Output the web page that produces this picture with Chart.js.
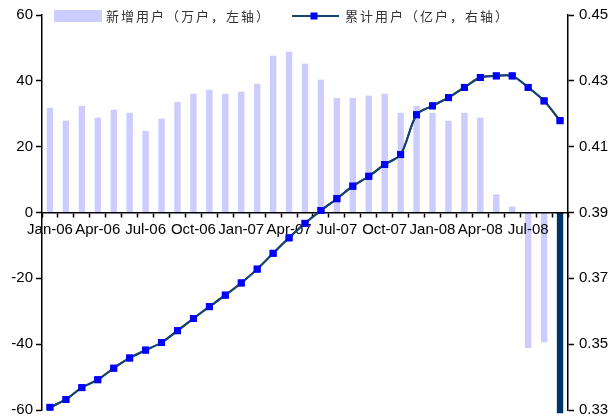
<!DOCTYPE html>
<html>
<head>
<meta charset="utf-8">
<script src="https://cdn.jsdelivr.net/npm/chart.js@4/dist/chart.umd.min.js"></script>
<style>
  html, body { margin: 0; padding: 0; background: #fff; }
  #wrap { width: 609px; height: 417px; position: relative; }
</style>
</head>
<body>
<div id="wrap"><canvas id="c"></canvas></div>
<script>
// 月份（2006-01 至 2008-09）
const months = [
  'Jan-06','Feb-06','Mar-06','Apr-06','May-06','Jun-06','Jul-06','Aug-06','Sep-06','Oct-06','Nov-06','Dec-06',
  'Jan-07','Feb-07','Mar-07','Apr-07','May-07','Jun-07','Jul-07','Aug-07','Sep-07','Oct-07','Nov-07','Dec-07',
  'Jan-08','Feb-08','Mar-08','Apr-08','May-08','Jun-08','Jul-08','Aug-08','Sep-08'
];

// 新增用户（万户，左轴）
const newUsers = [
  31.8, 27.9, 32.4, 28.8, 31.2, 30.3, 24.8, 28.5, 33.6, 36.1, 37.3, 36.1,
  36.7, 39.1, 47.6, 48.8, 45.2, 40.3, 34.8, 34.8, 35.5, 36.1, 30.3, 32.4,
  30.3, 27.9, 30.3, 28.8, 5.5, 1.8, -41.2, -39.4, -61
];

// 累计用户（亿户，右轴）
const totalUsers = [
  0.3308, 0.3332, 0.3368, 0.3392, 0.3427, 0.3458, 0.3482, 0.3505, 0.3541, 0.3578, 0.3614, 0.3649,
  0.3686, 0.3728, 0.3776, 0.3823, 0.3867, 0.3906, 0.3942, 0.3980, 0.4010, 0.4046, 0.4076, 0.4197,
  0.4224, 0.4249, 0.4280, 0.4310, 0.4315, 0.4315, 0.4280, 0.4239, 0.4179
];

const legendNames = ['新增用户（万户，左轴）', '累计用户（亿户，右轴）'];

const BAR_COLOR = '#CCCCFF';
const LAST_BAR_COLOR = '#003366';
const LINE_COLOR = '#17446F';
const MARKER_COLOR = '#0000FF';

// 折线压在横轴标签之上：标签画完后再画一次折线
const lineOnTop = {
  id: 'lineOnTop',
  afterDraw(chart) {
    const meta = chart.getDatasetMeta(0);
    if (meta && meta.controller) meta.controller.draw();
  }
};

// 图例直接画在图区顶部
const topLegend = {
  id: 'topLegend',
  afterDraw(chart) {
    const ctx = chart.ctx;
    ctx.save();
    // 柱形图例
    ctx.fillStyle = BAR_COLOR;
    ctx.fillRect(54, 10, 48, 12);
    // 折线图例
    ctx.strokeStyle = LINE_COLOR;
    ctx.lineWidth = 2;
    ctx.beginPath();
    ctx.moveTo(292, 16);
    ctx.lineTo(339, 16);
    ctx.stroke();
    ctx.fillStyle = MARKER_COLOR;
    ctx.fillRect(310.5, 12.5, 7, 7);
    // 文字
    ctx.fillStyle = '#333';
    ctx.font = '13px "Noto Sans CJK SC"';
    ctx.letterSpacing = '2px';
    ctx.textBaseline = 'middle';
    ctx.fillText(legendNames[0], 106, 16);
    ctx.fillText(legendNames[1], 345, 16);
    ctx.restore();
  }
};

const tickFont = { family: 'Arial, "Liberation Sans", sans-serif', size: 15 };

new Chart(document.getElementById('c'), {
  data: {
    labels: months,
    datasets: [
      {
        type: 'line',
        label: legendNames[1],
        data: totalUsers,
        yAxisID: 'y1',
        borderColor: LINE_COLOR,
        borderWidth: 2,
        tension: 0.3,
        pointStyle: 'rect',
        pointRadius: 4.9,
        pointBackgroundColor: MARKER_COLOR,
        pointBorderColor: MARKER_COLOR,
        pointBorderWidth: 0,
        order: 0,
      },
      {
        type: 'bar',
        label: legendNames[0],
        data: newUsers,
        yAxisID: 'y',
        backgroundColor: newUsers.map((v, i) => i === newUsers.length - 1 ? LAST_BAR_COLOR : BAR_COLOR),
        barPercentage: 0.4,
        categoryPercentage: 1,
        clip: { left: 0, top: 0, right: 0, bottom: 6 },
        order: 1,
      },
    ],
  },
  options: {
    responsive: true,
    maintainAspectRatio: false,
    animation: false,
    layout: { padding: { top: 15, bottom: 7, left: 0, right: 0 } },
    plugins: {
      legend: { display: false },
      tooltip: { enabled: false },
    },
    scales: {
      x: {
        type: 'category',
        position: { y: 0 },
        offset: true,
        grid: { display: true, drawOnChartArea: false, offset: true, tickLength: 4, color: '#000', tickWidth: 1.5, z: 1 },
        border: { display: true, color: '#000', width: 1.5, z: 1 },
        ticks: {
          z: 1,
          autoSkip: false,
          maxRotation: 0,
          padding: 4,
          color: '#000',
          font: tickFont,
          callback: (v, i) => (i % 3 === 0 ? months[i] : ''),
        },
      },
      y: {
        position: 'left',
        min: -60,
        max: 60,
        grid: { drawOnChartArea: false, tickLength: 6, color: '#000', tickWidth: 1.5 },
        border: { display: true, color: '#000', width: 1.5 },
        ticks: { stepSize: 20, padding: 3, color: '#000', font: tickFont },
        afterFit: s => { s.width = 42; s.paddingTop = 0; s.paddingBottom = 0; },
      },
      y1: {
        position: 'right',
        min: 0.33,
        max: 0.45,
        grid: { drawOnChartArea: false, tickLength: 6, color: '#000', tickWidth: 1.5 },
        border: { display: true, color: '#000', width: 1.5 },
        ticks: { stepSize: 0.02, padding: 5, color: '#000', font: tickFont, callback: v => v.toFixed(2) },
        afterFit: s => { s.width = 41; s.paddingTop = 0; s.paddingBottom = 0; },
      },
    },
  },
  plugins: [lineOnTop, topLegend],
});
</script>
</body>
</html>
